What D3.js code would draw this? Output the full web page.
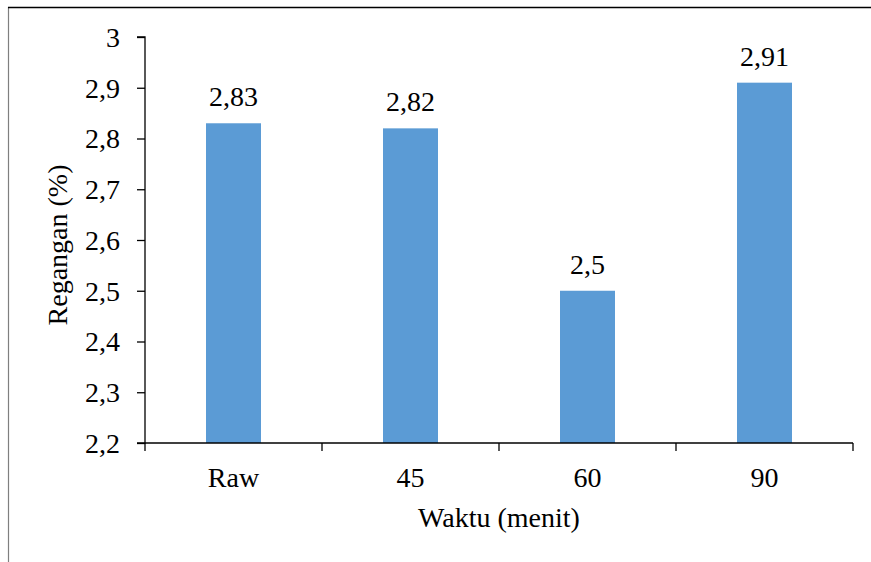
<!DOCTYPE html>
<html><head><meta charset="utf-8">
<script src="https://cdn.jsdelivr.net/npm/d3@7"></script>
<style>body{margin:0;background:#fff}svg{display:block}
svg text{font-family:"Times New Roman","Liberation Serif",Tinos,"DejaVu Serif",serif !important;}</style>
</head><body><svg id="c" width="871" height="562"></svg>
<script>
const categories = ["Raw", "45", "60", "90"];
const values = [2.83, 2.82, 2.5, 2.91];
const valueLabels = ["2,83", "2,82", "2,5", "2,91"];
const yTicks = [2.2, 2.3, 2.4, 2.5, 2.6, 2.7, 2.8, 2.9, 3];
const yTickLabels = ["2,2", "2,3", "2,4", "2,5", "2,6", "2,7", "2,8", "2,9", "3"];

const FONT = "Times New Roman, Liberation Serif, Tinos, DejaVu Serif, serif";
const FS = 28;
const svg = d3.select("#c");
const m = {l:145, r:853, t:37, b:443};
// frame
svg.append("line").attr("x1",8.5).attr("x2",8.5).attr("y1",7).attr("y2",562).attr("stroke","#7f7f7f").attr("stroke-width",1.2);
svg.append("line").attr("x1",8).attr("x2",871).attr("y1",7.5).attr("y2",7.5).attr("stroke","#000").attr("stroke-width",1.3);

const x = d3.scaleBand().domain(categories).range([m.l, m.r]).paddingInner(0).paddingOuter(0);
const y = d3.scaleLinear().domain([2.2, 3]).range([m.b, m.t]);
const bw = 55;

svg.selectAll("rect.bar").data(values).join("rect").attr("class","bar")
  .attr("x",(d,i)=>x(categories[i])+x.bandwidth()/2-bw/2)
  .attr("width",bw)
  .attr("y",d=>y(d)).attr("height",d=>y(2.2)-y(d))
  .attr("fill","#5b9bd5");

svg.selectAll("text.val").data(values).join("text").attr("class","val")
  .attr("x",(d,i)=>x(categories[i])+x.bandwidth()/2)
  .attr("y",d=>y(d)-17)
  .attr("text-anchor","middle").attr("font-size",FS).attr("font-family",FONT).attr("fill","#000")
  .text((d,i)=>valueLabels[i]);

// y axis
const ya = svg.append("g").attr("transform",`translate(${m.l},0)`)
  .call(d3.axisLeft(y).tickValues(yTicks).tickSize(8).tickPadding(17).tickFormat((d,i)=>yTickLabels[i]));
ya.attr("font-family",FONT).attr("font-size",FS);
ya.select(".domain").attr("stroke","#000").attr("stroke-width",1.3).attr("d",`M-8,${m.t}H0V${m.b}H-8`);
ya.selectAll(".tick line").attr("stroke","#000").attr("stroke-width",1.3);
ya.selectAll("text").attr("fill","#000").attr("dy","0.33em");

// x axis
const xa = svg.append("g").attr("transform",`translate(0,${m.b})`);
xa.append("line").attr("x1",m.l).attr("x2",m.r).attr("y1",0).attr("y2",0).attr("stroke","#000").attr("stroke-width",1.3);
const bounds = categories.map(c=>x(c)).concat([m.r]);
xa.selectAll("line.t").data(bounds).join("line").attr("class","t")
  .attr("x1",d=>d).attr("x2",d=>d).attr("y1",0).attr("y2",8).attr("stroke","#000").attr("stroke-width",1.3);
xa.selectAll("text.c").data(categories).join("text").attr("class","c")
  .attr("x",d=>x(d)+x.bandwidth()/2).attr("y",44).attr("text-anchor","middle")
  .attr("font-size",FS).attr("font-family",FONT).attr("fill","#000").text(d=>d);

svg.append("text").attr("x",499).attr("y",527).attr("text-anchor","middle")
  .attr("font-size",FS).attr("font-family",FONT).attr("fill","#000").text("Waktu (menit)");
svg.append("text").attr("transform","translate(67,245) rotate(-90)").attr("text-anchor","middle")
  .attr("font-size",FS).attr("font-family",FONT).attr("fill","#000").text("Regangan (%)");
</script></body></html>
